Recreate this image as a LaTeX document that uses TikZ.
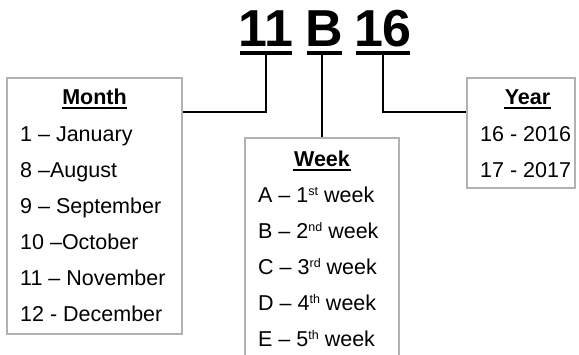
\documentclass[tikz,border=0pt]{standalone}
\usepackage{fontspec}
\setmainfont{Liberation Sans}
\definecolor{boxgray}{RGB}{178,178,178}
\newcommand{\ordsup}[1]{\raisebox{6.5pt}{\fontsize{12.5}{13}\selectfont #1}}

\begin{document}
\begin{tikzpicture}[x=1pt, y=-1pt,
    infobox/.style={draw=boxgray, line width=1.3pt, inner sep=0pt}, % gray boxes
    entry/.style={anchor=base west, inner sep=0pt, font=\fontsize{21.5}{25}\selectfont},
    heading/.style={anchor=base, inner sep=0pt, font=\fontsize{21.5}{25}\selectfont\bfseries},
    code/.style={anchor=base, inner sep=0pt, font=\fontsize{52}{60}\selectfont\bfseries},
    bar/.style={fill=black, inner sep=0pt, minimum height=4pt}, % underline of the code
    rule/.style={line width=1.6pt, shorten <=-0.5pt, shorten >=-0.5pt}, % underline of headings
    link/.style={line width=1.5pt, black}]
  \useasboundingbox (0,0) rectangle (579,355);

  % code 11 B 16
  \node[code] (c11) at (266,47) {11};
  \node[code] (cB) at (324.5,47) {B};
  \node[code] (c16) at (383,47) {16};
  \node[bar, minimum width=52pt] (u11) at (266,53) {};
  \node[bar, minimum width=35pt] (uB) at (324.5,53) {};
  \node[bar, minimum width=54pt] (u16) at (383,53) {};

  % boxes
  \node[infobox, minimum width=175pt, minimum height=256pt] (month) at (94.5,206) {};
  \node[infobox, minimum width=154pt, minimum height=250pt] (week) at (322,263) {};
  \node[infobox, minimum width=108pt, minimum height=110pt] (year) at (521,133) {};

  % month
  \node[heading] (monthT) at (94.5,105) {Month};
  \draw[rule] ([yshift=-3pt]monthT.base west) -- ([yshift=-3pt]monthT.base east);
  \foreach \txt [count=\i] in {1 – January, 8 –August, 9 – September,
      10 –October, 11 – November, 12 - December}
    \node[entry] (m\i) at (20,105.5+36*\i) {\txt};

  % week
  \node[heading] (weekT) at (322,167) {Week};
  \draw[rule] ([yshift=-3pt]weekT.base west) -- ([yshift=-3pt]weekT.base east);
  \foreach \l/\n/\s [count=\i] in {A/1/st, B/2/nd, C/3/rd, D/4/th, E/5/th}
    \node[entry] (w\i) at (258,166.5+36*\i) {\l{} – \n\ordsup{\s} week};

  % year
  \node[heading] (yearT) at (527.5,105) {Year};
  \draw[rule] ([yshift=-3pt]yearT.base west) -- ([yshift=-3pt]yearT.base east);
  \node[entry] (y1) at (480,141.5) {16 - 2016};
  \node[entry] (y2) at (480,177.5) {17 - 2017};

  % links
  \coordinate (jm) at (266,112);
  \coordinate (jy) at (383,112);
  \draw[link] (u11.south) -- (jm) -- (jm -| month.east);
  \draw[link] (week.north |- uB.south) -- (week.north);
  \draw[link] (u16.south) -- (jy) -- (jy -| year.west);
\end{tikzpicture}
\end{document}
